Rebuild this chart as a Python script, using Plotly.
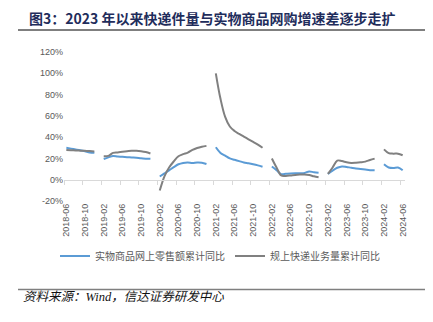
import pandas as pd
import plotly.graph_objects as go

# Monthly axis, 2018-06 .. 2024-06 (January has no stand-alone figure, left as a gap)
months = [p.strftime("%Y-%m") for p in pd.period_range("2018-06", "2024-06", freq="M")]

# 实物商品网上零售额累计同比 (%)
online_goods = (
    [30.0, 29.2, 28.4, 27.6, 26.7, 25.6, 25.4]
    + [None, 19.5, 21.0, 22.3, 21.8, 21.6, 21.2, 20.9, 20.6, 20.1, 19.8, 19.6]
    + [None, 3.0, 5.9, 8.8, 11.8, 14.5, 15.8, 16.2, 15.6, 16.2, 16.0, 14.8]
    + [None, 30.5, 25.2, 22.6, 20.0, 18.7, 17.5, 16.2, 15.5, 14.6, 13.5, 12.2]
    + [None, 12.4, 9.0, 5.2, 5.5, 5.8, 6.0, 6.1, 6.4, 7.8, 7.0, 6.5]
    + [None, 5.5, 8.6, 11.2, 12.5, 12.0, 11.2, 10.6, 10.0, 9.5, 9.0, 8.8]
    + [None, 14.5, 11.5, 11.0, 11.5, 8.8]
)

# 规上快递业务量累计同比 (%)
express_volume = (
    [28.0, 27.8, 27.5, 27.3, 27.1, 26.9, 26.6]
    + [None, 22.0, 22.4, 25.2, 25.6, 26.2, 26.7, 27.2, 27.2, 26.8, 26.0, 24.6]
    + [None, -10.2, 3.2, 11.5, 17.2, 22.0, 24.0, 25.5, 28.0, 29.8, 31.0, 31.8]
    + [None, 100.0, 76.0, 59.0, 50.0, 45.8, 43.0, 40.5, 38.0, 35.5, 33.0, 30.0]
    + [None, 20.0, 11.5, 4.0, 3.6, 4.0, 4.5, 4.8, 5.0, 4.5, 3.2, 2.3]
    + [None, 5.5, 11.5, 18.0, 17.5, 16.4, 15.8, 16.0, 16.4, 17.0, 18.5, 19.8]
    + [None, 28.5, 25.0, 24.5, 24.5, 23.0]
)

y_ticks = [-20, 0, 20, 40, 60, 80, 100, 120]
y_tick_text = [f"{v}%" for v in y_ticks]

idx = list(range(len(months)))
label_pos = idx[::4]
label_text = months[::4]
boundaries = [i - 0.5 for i in label_pos]
x_range = [-0.5, len(months) - 0.5]

W, H = 433, 322
L, R, T, B = 64, 28, 52, 121
plot_w, plot_h = W - L - R, H - T - B


def px_to_paper(px, py):
    return (px - L) / plot_w, (H - B - py) / plot_h


TXT = "#595959"
FONT = "Liberation Sans, Arial, Noto Sans CJK SC, sans-serif"

fig = go.Figure()
fig.add_trace(go.Scatter(
    x=idx, y=online_goods, name="实物商品网上零售额累计同比",
    mode="lines", line=dict(color="#5B9BD5", width=2, shape="spline"),
    xaxis="x", yaxis="y",
))
fig.add_trace(go.Scatter(
    x=idx, y=express_volume, name="规上快递业务量累计同比",
    mode="lines", line=dict(color="#808080", width=2, shape="spline"),
    xaxis="x2", yaxis="y",
))

zero_pos = (0 - y_ticks[0]) / (y_ticks[-1] - y_ticks[0])

fig.update_layout(
    width=W, height=H,
    margin=dict(l=L, r=R, t=T, b=B),
    paper_bgcolor="white", plot_bgcolor="white",
    font=dict(family=FONT, color=TXT, size=9),
    xaxis=dict(
        range=x_range, tickmode="array", tickvals=label_pos, ticktext=label_text,
        tickangle=-90, ticks="", showline=False, showgrid=False, zeroline=False,
        tickfont=dict(size=9, color=TXT),
    ),
    xaxis2=dict(
        range=x_range, overlaying="x", anchor="free", position=zero_pos, side="bottom",
        tickmode="array", tickvals=boundaries, ticks="outside", ticklen=4,
        tickcolor="#D9D9D9", tickwidth=1, showticklabels=False,
        showline=True, linecolor="#D9D9D9", linewidth=1, showgrid=False, zeroline=False,
    ),
    yaxis=dict(
        range=[y_ticks[0], y_ticks[-1]], tickmode="array", tickvals=y_ticks,
        ticktext=y_tick_text, showgrid=False, zeroline=False, showline=False, ticks="",
        tickfont=dict(size=9, color=TXT),
    ),
    showlegend=True,
    legend=dict(
        orientation="h", x=px_to_paper(55, 0)[0], xanchor="left",
        y=px_to_paper(0, 256)[1], yanchor="middle",
        font=dict(size=10, color=TXT, family="Noto Sans CJK SC, sans-serif"),
        itemwidth=30, entrywidth=130, entrywidthmode="pixels",
        bgcolor="rgba(0,0,0,0)",
    ),
)

# Title, rules and source note
tx, ty = px_to_paper(27, 18.5)
fig.add_annotation(
    text="<b>图3：2023 年以来快递件量与实物商品网购增速差逐步走扩</b>",
    xref="paper", yref="paper", x=tx, y=ty, xanchor="left", yanchor="middle",
    showarrow=False, font=dict(size=14, color="#1F2D5C", family="Noto Sans CJK SC, sans-serif"),
)
x0, _ = px_to_paper(18, 0)
x1, _ = px_to_paper(425, 0)
_, y_top_rule = px_to_paper(0, 30)
_, y_bot_rule = px_to_paper(0, 289.5)
fig.add_shape(type="line", xref="paper", yref="paper", x0=x0, x1=x1,
              y0=y_top_rule, y1=y_top_rule, line=dict(color="#7F7F7F", width=2))
fig.add_shape(type="line", xref="paper", yref="paper", x0=x0, x1=x1,
              y0=y_bot_rule, y1=y_bot_rule, line=dict(color="#7F7F7F", width=1.5))
sx, sy = px_to_paper(20.5, 297)
fig.add_annotation(
    text="<i>资料来源：Wind，信达证券研发中心</i>",
    xref="paper", yref="paper", x=sx, y=sy, xanchor="left", yanchor="middle",
    showarrow=False, font=dict(size=12.5, color="#111111", family="Liberation Serif, Noto Sans CJK SC, serif"),
)

fig.write_html("out.html")
